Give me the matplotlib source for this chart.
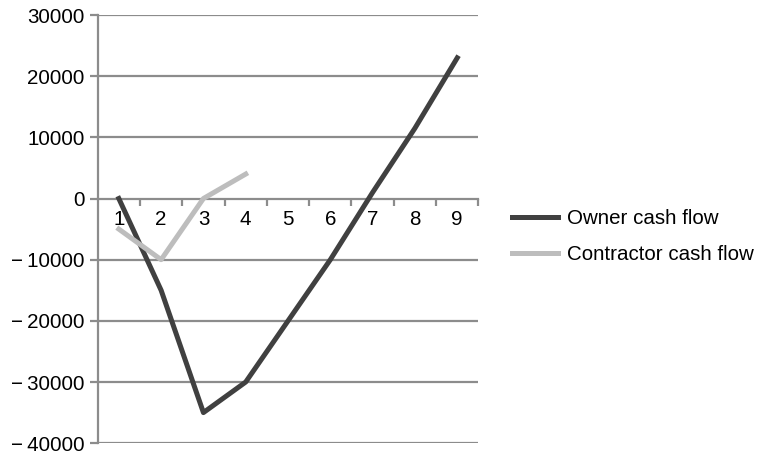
import numpy as np
import matplotlib.pyplot as plt
from matplotlib.ticker import FixedLocator

plt.rcParams['font.family'] = ['Liberation Sans', 'DejaVu Sans']

# periods and cash flows
periods = [1, 2, 3, 4, 5, 6, 7, 8, 9]
owner = [0, -15000, -35000, -30000, -20000, -10000, 1000, 11500, 23000]
contractor_periods = [1, 2, 3, 4]
contractor = [-5000, -10000, 0, 4000]
yticks = [-40000, -30000, -20000, -10000, 0, 10000, 20000, 30000]

grid_c = '#8c8c8c'
fs = 14.8

fig = plt.figure(figsize=(7.63, 4.55), dpi=100)
ax = fig.add_axes([0.128, 0.026, 0.499, 0.941])

for y in yticks:
    if y != 0:
        ax.axhline(y, color=grid_c, lw=1.6, zorder=1)

l1, = ax.plot(periods, owner, color='#404040', lw=3.6, label='Owner cash flow', zorder=3)
l2, = ax.plot(contractor_periods, contractor, color='#bdbdbd', lw=3.6,
              label='Contractor cash flow', zorder=3)

ax.set_xlim(0.5, 9.5)
ax.set_ylim(-40000, 30000)
ax.set_yticks(yticks)
ax.set_yticklabels([f'{v}'.replace('-', '\u2212\u2009') for v in yticks])

ax.set_xticks(periods)
ax.set_xticklabels([str(p) for p in periods])
ax.xaxis.set_minor_locator(FixedLocator(np.arange(1.5, 10, 1.0)))

for s in ['top', 'right']:
    ax.spines[s].set_visible(False)
ax.spines['left'].set_color(grid_c)
ax.spines['left'].set_linewidth(1.6)
ax.spines['bottom'].set_position(('data', 0))
ax.spines['bottom'].set_color(grid_c)
ax.spines['bottom'].set_linewidth(1.6)

ax.tick_params(axis='y', length=6, width=1.6, color=grid_c, labelsize=fs, pad=3.5)
ax.tick_params(axis='x', which='major', length=0, labelsize=fs, pad=8)
ax.tick_params(axis='x', which='minor', length=5, width=1.6, color=grid_c)

fig.legend(handles=[l1, l2], loc='center left', bbox_to_anchor=(0.671, 0.48),
           frameon=False, fontsize=fs, handlelength=2.25, handletextpad=0.45,
           labelspacing=0.85, borderaxespad=0, borderpad=0)

fig.savefig('out.png', dpi=100)
